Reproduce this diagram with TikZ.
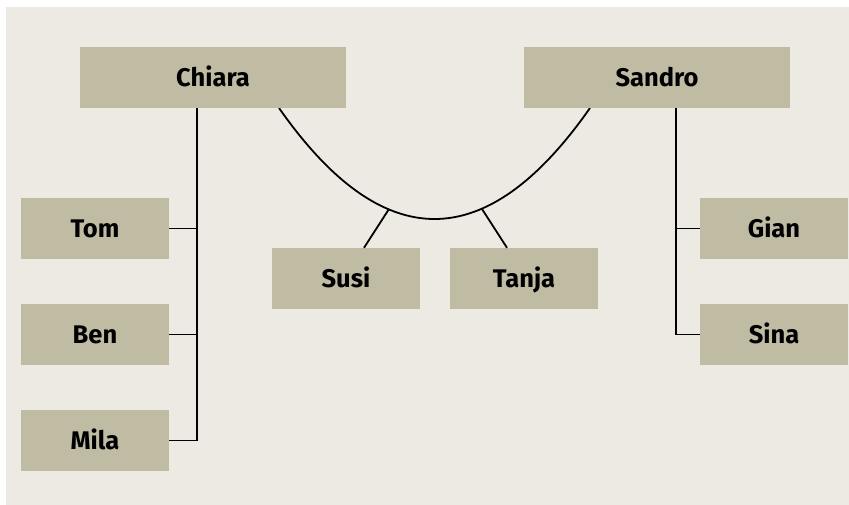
\documentclass[tikz,border=0pt]{standalone}
\usepackage{fontspec}
\setmainfont{Fira Sans}
\definecolor{bgc}{RGB}{237,234,227}
\definecolor{boxc}{RGB}{192,187,163}
\begin{document}
\begin{tikzpicture}[x=1pt,y=-1pt,
  person/.style={fill=boxc,draw=none,inner sep=0pt,minimum height=61pt,
    text height=17.4pt,text depth=0pt,font=\fontsize{25.5}{29}\selectfont\bfseries,anchor=center},
  parent/.style={person,minimum width=266pt},
  child/.style={person,minimum width=148pt},
  link/.style={draw=black,line width=1.8pt}]
\useasboundingbox (0,0) rectangle (849,504);
\fill[bgc] (6,7) rectangle (860,515);
% curve
\coordinate (ca) at (279,108);
\coordinate (cb) at (590,108);
\coordinate (su) at (389,209);
\coordinate (ta) at (482,209);
\draw[link] (ca) .. controls (382.7,256) and (486.3,256) .. (cb);
% nodes
\node[parent] (chiara) at (213,77.5) {Chiara};
\node[parent] (sandro) at (657,77.5) {Sandro};
\node[child] (tom) at (95,228.5) {Tom};
\node[child] (ben) at (95,334.5) {Ben};
\node[child] (mila) at (95,440.5) {Mila};
\node[child] (susi) at (346,278.5) {Susi};
\node[child] (tanja) at (524,278.5) {Tanja};
\node[child] (gian) at (774,228.5) {Gian};
\node[child] (sina) at (774,334.5) {Sina};
% connectors
\coordinate (cl) at (197,108);
\coordinate (sr) at (676,108);
\draw[link] (cl) |- (mila.east);
\draw[link] (tom.east) -- (tom.east -| cl);
\draw[link] (ben.east) -- (ben.east -| cl);
\draw[link] (sr) |- (sina.west);
\draw[link] (gian.west) -- (gian.west -| sr);
\draw[link] (su) -- ([xshift=18pt]susi.north);
\draw[link] (ta) -- ([xshift=-17pt]tanja.north);
\end{tikzpicture}
\end{document}
